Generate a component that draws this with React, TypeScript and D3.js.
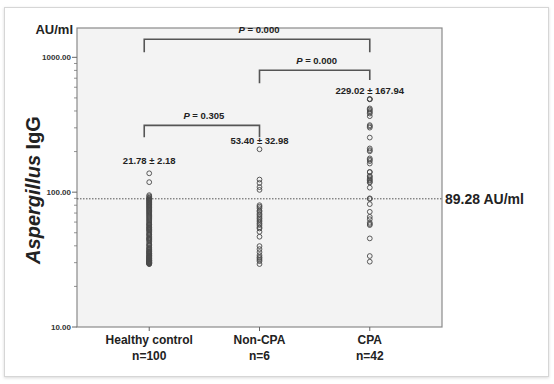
import React from "react";
import * as d3 from "d3";

const categories = ["Healthy control", "Non-CPA", "CPA"];
const groupSizes = ["n=100", "n=6", "n=42"];
const meanLabels = ["21.78 \u00b1 2.18", "53.40 \u00b1 32.98", "229.02 \u00b1 167.94"];
const meanLabelAt = [161, 227, 532];

const healthyValues = [
  138, 118.6, 95, 93, 91, 90, 89, 88, 87, 86, 85, 84, 83, 82, 81, 80, 79, 78, 77, 76,
  75, 74, 73, 72, 71, 70, 69, 68, 67, 66, 65, 64, 63, 62, 61, 60, 59, 58, 57.5, 57,
  56, 55, 54.5, 54, 53, 52, 51, 50, 49, 48.5, 48, 47, 46, 45, 44.5, 44, 43, 42, 41, 40.5,
  40, 39, 38.5, 38, 37.5, 37, 36.5, 36, 35.5, 35, 34.5, 34, 33.5, 33.2, 33, 32.7, 32.4, 32, 31.8, 31.5,
  31.2, 31, 30.8, 30.6, 30.4, 30.2, 30, 29.8, 29.6, 29.5, 29.4, 29.3, 30.1, 31.1, 32.2, 33.8, 35.2, 36.2, 45.5, 52.5,
];
const nonCpaValues = [
  208, 124, 117, 109, 104, 80, 78, 76, 73, 71.5, 69, 67.6, 65.5, 63.8, 62, 60.3, 58.5, 57, 55, 53.8,
  50.8, 46.7, 39.8, 37.8, 35.9, 34.1, 33, 32.4, 31.5, 30.8, 29.3,
];
const cpaValues = [
  490, 490, 488, 418, 410, 400, 392, 383, 366, 314, 308, 301, 254, 211, 205, 201, 178, 174, 170, 163,
  141, 141, 132, 130, 127, 124, 122, 119, 118, 108, 90, 89, 81.5, 71.5, 65.6, 63, 59.3, 58, 57, 45.4,
  33.6, 30.5,
];
const groupValues = [healthyValues, nonCpaValues, cpaValues];

const cutoff = 89.28;
const cutoffLabel = "89.28 AU/ml";

const comparisons = [
  { from: "Healthy control", to: "CPA", p: "0.000", at: 1360, leftEnd: 1090, rightEnd: 1090 },
  { from: "Non-CPA", to: "CPA", p: "0.000", at: 801, leftEnd: 641, rightEnd: 680 },
  { from: "Healthy control", to: "Non-CPA", p: "0.305", at: 313, leftEnd: 255, rightEnd: 255 },
];

const majorTicks = [10, 100, 1000];
const minorTicks = [20, 30, 40, 50, 60, 70, 80, 90, 200, 300, 400, 500, 600, 700, 800, 900];

const FONT = "'Liberation Sans', Arial, Helvetica, sans-serif";

export default function App() {
  const W = 554, H = 384;
  const left = 77, right = 442, top = 28, bottom = 327;
  const x = d3.scalePoint<string>().domain(categories).range([left, right]).padding(0.655);
  const y = d3.scaleLog().domain([10, 1650]).range([bottom, top]);
  const fmt = d3.format(".2f");

  return (
    <svg width={W} height={H} style={{ position: "absolute", left: 0, top: 0 }} fontFamily={FONT}>
      <defs>
        <filter id="sh" x="-5%" y="-5%" width="110%" height="110%">
          <feDropShadow dx="0" dy="1" stdDeviation="1.5" floodColor="#000" floodOpacity="0.15" />
        </filter>
      </defs>
      <rect x={0} y={0} width={W} height={H} fill="#fff" />
      <rect x={4.5} y={7.5} width={544} height={369} fill="#fff" stroke="#d6d6d6" filter="url(#sh)" />
      <rect x={left} y={top} width={right - left} height={bottom - top} fill="#f3f3f3" stroke="#8a8a8a" strokeWidth={1.2} />

      {/* y axis ticks */}
      {minorTicks.map((t) => (
        <line key={"m" + t} x1={left - 3} x2={left} y1={y(t)} y2={y(t)} stroke="#777" strokeWidth={0.8} />
      ))}
      {majorTicks.map((t) => (
        <g key={"M" + t}>
          <line x1={left - 5} x2={left} y1={y(t)} y2={y(t)} stroke="#666" strokeWidth={1} />
          <text x={left - 6} y={y(t) + 2.8} fontSize={8} fontWeight="bold" textAnchor="end" fill="#333">
            {fmt(t)}
          </text>
        </g>
      ))}
      <text x={73} y={34} fontSize={13} fontWeight="bold" textAnchor="end" fill="#222">AU/ml</text>
      <text transform={`translate(40,190) rotate(-90)`} fontSize={20} fontWeight="bold" textAnchor="middle" fill="#222">
        <tspan fontStyle="italic">Aspergillus</tspan>
        <tspan> IgG</tspan>
      </text>

      {/* x axis ticks & labels */}
      {categories.map((c, i) => (
        <g key={c}>
          <line x1={x(c)} x2={x(c)} y1={bottom} y2={bottom + 4} stroke="#666" strokeWidth={1} />
          <text x={x(c)} y={344} fontSize={12} fontWeight="bold" textAnchor="middle" fill="#222">{c}</text>
          <text x={x(c)} y={360} fontSize={12} fontWeight="bold" textAnchor="middle" fill="#222">{groupSizes[i]}</text>
        </g>
      ))}

      {/* cutoff line */}
      <line x1={left} x2={right} y1={y(cutoff)} y2={y(cutoff)} stroke="#555" strokeWidth={1} strokeDasharray="1.5,1.5" />
      <text x={right + 3} y={y(cutoff) + 5} fontSize={14} fontWeight="bold" fill="#222">{cutoffLabel}</text>

      {/* points */}
      {groupValues.map((vals, gi) =>
        vals.map((v, j) => (
          <circle key={gi + "-" + j} cx={x(categories[gi])} cy={y(v)} r={2.4} fill="none" stroke="#4a4a4a" strokeWidth={0.9} />
        ))
      )}

      {/* mean labels */}
      {categories.map((c, i) => (
        <text key={"ml" + c} x={x(c)} y={y(meanLabelAt[i])} fontSize={9.5} fontWeight="bold" textAnchor="middle" fill="#222">
          {meanLabels[i]}
        </text>
      ))}

      {/* brackets */}
      {comparisons.map((cmp, i) => {
        const x1 = x(cmp.from)! - (cmp.from === "Healthy control" ? 5 : 0);
        const x2 = x(cmp.to)!;
        const yy = y(cmp.at);
        return (
          <g key={"b" + i}>
            <path
              d={`M${x1},${y(cmp.leftEnd)}V${yy}H${x2}V${y(cmp.rightEnd)}`}
              fill="none"
              stroke="#555"
              strokeWidth={1.6}
            />
            <text x={(x1 + x2) / 2 + 2} y={yy - 6} fontSize={9.5} fontWeight="bold" textAnchor="middle" fill="#222">
              <tspan fontStyle="italic">P</tspan>
              <tspan>{" = " + cmp.p}</tspan>
            </text>
          </g>
        );
      })}
    </svg>
  );
}
